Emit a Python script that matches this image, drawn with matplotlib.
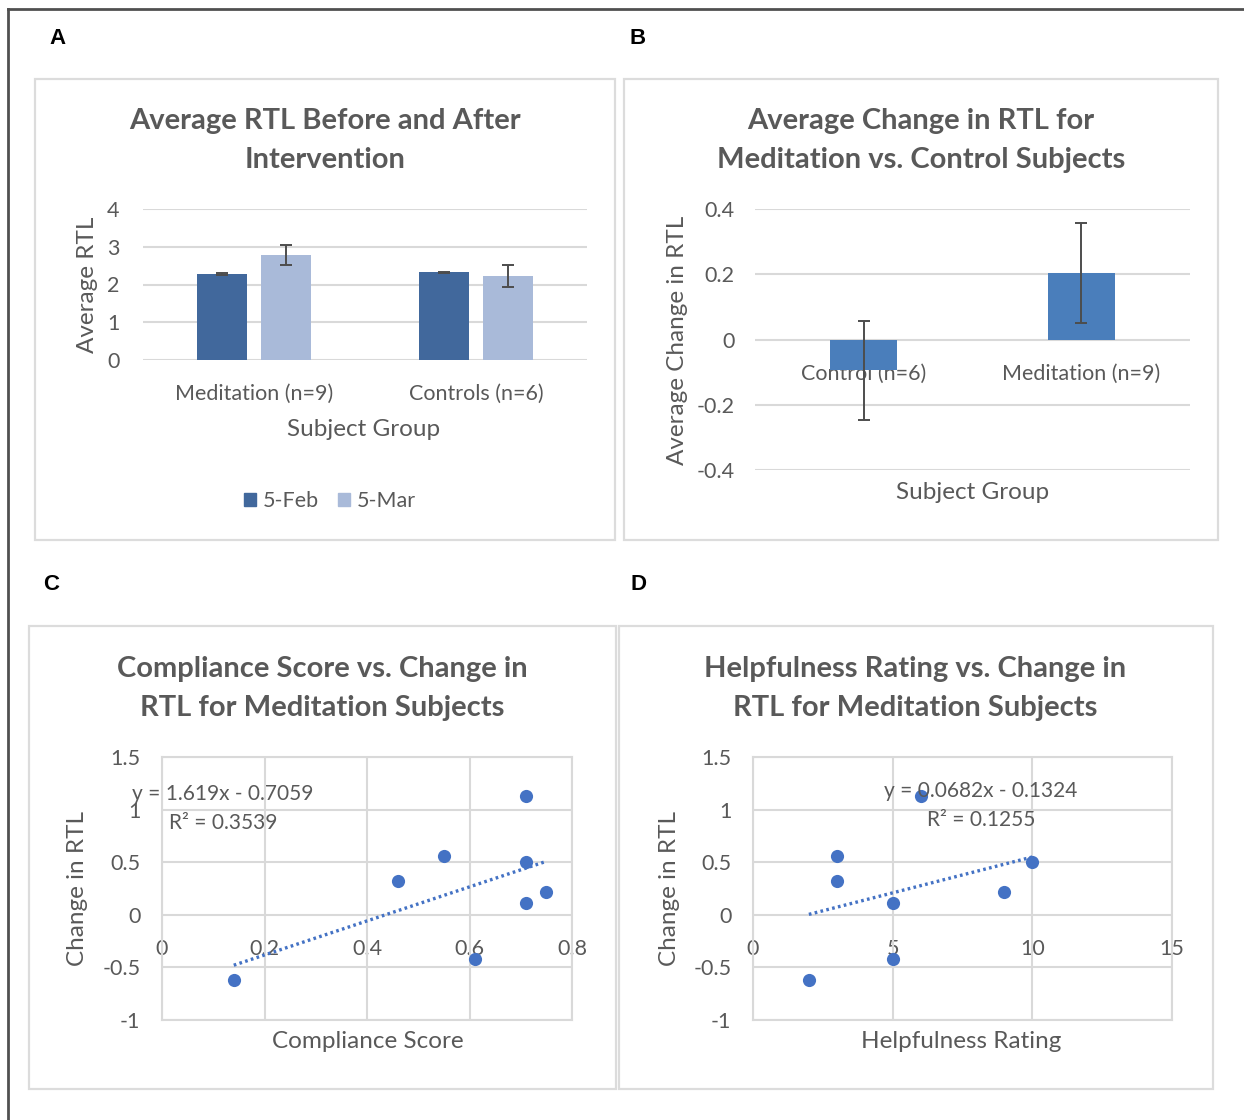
import numpy as np
import matplotlib
matplotlib.use("Agg")
import matplotlib.pyplot as plt
from matplotlib.patches import Rectangle, Patch
from matplotlib.lines import Line2D

plt.rcParams['font.family'] = ['Lato', 'DejaVu Sans']
plt.rcParams['axes.unicode_minus'] = False

# ---------------- data ----------------
a_groups = ['Meditation (n=9)', 'Controls (n=6)']
a_series = ['5-Feb', '5-Mar']
a_feb = [2.28, 2.32]
a_feb_err = [0.02, 0.02]
a_mar = [2.78, 2.22]
a_mar_err = [0.27, 0.29]
a_yticks = [0, 1, 2, 3, 4]

b_groups = ['Control (n=6)', 'Meditation (n=9)']
b_vals = [-0.095, 0.205]
b_err = [0.152, 0.153]
b_yticks = [-0.4, -0.2, 0, 0.2, 0.4]
b_yticklabels = ['-0.4', '-0.2', '0', '0.2', '0.4']

c_x = [0.14, 0.46, 0.55, 0.61, 0.71, 0.71, 0.71, 0.75]
c_y = [-0.62, 0.32, 0.56, -0.42, 1.13, 0.50, 0.11, 0.22]
c_slope, c_intercept = 1.619, -0.7059
c_eq = ['y = 1.619x - 0.7059', 'R\u00b2 = 0.3539']
c_xticks = [0, 0.2, 0.4, 0.6, 0.8]
c_xticklabels = ['0', '0.2', '0.4', '0.6', '0.8']

d_x = [2, 3, 3, 5, 6, 10, 5, 9]
d_y = [-0.62, 0.32, 0.56, -0.42, 1.13, 0.50, 0.11, 0.22]
d_slope, d_intercept = 0.0682, -0.1324
d_eq = ['y = 0.0682x - 0.1324', 'R\u00b2 = 0.1255']
d_xticks = [0, 5, 10, 15]
d_xticklabels = ['0', '5', '10', '15']

scatter_yticks = [-1, -0.5, 0, 0.5, 1, 1.5]
scatter_yticklabels = ['-1', '-0.5', '0', '0.5', '1', '1.5']

# ---------------- style ----------------
W, H = 1244, 1120
GRAY_TXT = '#595959'
GRID = '#d9d9d9'
FEB_C = '#41689c'
MAR_C = '#a9bad9'
B_C = '#4a7ebb'
PT_C = '#4472c4'
ERR_C = '#4d4d4d'
TITLE_FS = 21
TICK_FS = 15.5
LAB_FS = 17.5
EQ_FS = 15

fig = plt.figure(figsize=(W / 100, H / 100), dpi=100)


def fx(px):
    return px / W


def fy(py):
    return 1 - py / H


def add_ax(x0, y0, x1, y1):
    return fig.add_axes([x0 / W, 1 - y1 / H, (x1 - x0) / W, (y1 - y0) / H])


def panel_box(x0, y0, x1, y1):
    fig.add_artist(Rectangle((fx(x0), fy(y1)), (x1 - x0) / W, (y1 - y0) / H,
                             transform=fig.transFigure, fill=False,
                             edgecolor='#dcdcdc', lw=1.6))


def label_at(ax, box, which, px, py):
    x0, y0, x1, y1 = box
    ax_x = (px - x0) / (x1 - x0)
    ax_y = (y1 - py) / (y1 - y0)
    lab = ax.xaxis.label if which == 'x' else ax.yaxis.label
    (ax.xaxis if which == 'x' else ax.yaxis).set_label_coords(ax_x, ax_y)
    lab.set_va('center')
    lab.set_ha('center')


def title_at(text, px, py):
    fig.text(fx(px), fy(py), text, ha='center', va='center', fontsize=TITLE_FS,
             fontweight='bold', color=GRAY_TXT, linespacing=1.6)


# outer frame
fig.add_artist(Line2D([fx(8), fx(1244)], [fy(9), fy(9)], transform=fig.transFigure,
                      color='#505050', lw=2))
fig.add_artist(Line2D([fx(8), fx(8)], [fy(9), fy(1120)], transform=fig.transFigure,
                      color='#505050', lw=2))

# panel boxes
panel_box(35, 79, 615, 540)
panel_box(624, 79, 1218, 540)
panel_box(29, 626, 616, 1089)
panel_box(619, 626, 1213, 1089)

# panel letters
for letter, (px, py) in zip('ABCD', [(58, 38), (638, 38), (51, 585), (638, 585)]):
    fig.text(fx(px), fy(py), letter, ha='center', va='center', fontsize=16,
             fontweight='bold', color='black', family='Liberation Sans')


def style_common(ax):
    for s in ax.spines.values():
        s.set_visible(False)
    ax.tick_params(length=0, colors=GRAY_TXT, labelsize=TICK_FS)
    ax.set_axisbelow(True)


# ---------------- Panel A ----------------
boxA = (143, 209, 587, 360)
axA = add_ax(*boxA)
style_common(axA)
xa = np.arange(len(a_groups))
off, bw = 0.144, 0.225
axA.bar(xa - off, a_feb, width=bw, color=FEB_C, label=a_series[0], zorder=2)
axA.bar(xa + off, a_mar, width=bw, color=MAR_C, label=a_series[1], zorder=2)
axA.errorbar(xa - off, a_feb, yerr=a_feb_err, fmt='none', ecolor=ERR_C,
             elinewidth=1.4, capsize=4.5, capthick=1.4, zorder=3)
axA.errorbar(xa + off, a_mar, yerr=a_mar_err, fmt='none', ecolor=ERR_C,
             elinewidth=1.4, capsize=4.5, capthick=1.4, zorder=3)
axA.set_xlim(-0.5, 1.5)
axA.set_ylim(0, 4)
axA.set_yticks(a_yticks)
axA.set_xticks(xa, labels=a_groups)
axA.grid(axis='y', color=GRID, lw=1.5)
axA.tick_params(axis='y', pad=17)
axA.tick_params(axis='x', pad=17.5)
axA.set_ylabel('Average RTL', fontsize=LAB_FS, color=GRAY_TXT)
axA.set_xlabel('Subject Group', fontsize=LAB_FS, color=GRAY_TXT)
label_at(axA, boxA, 'y', 87, 285)
label_at(axA, boxA, 'x', 364, 430)
title_at('Average RTL Before and After\nIntervention', 325, 140.5)
axA.legend(handles=[Patch(color=FEB_C, label=a_series[0]),
                    Patch(color=MAR_C, label=a_series[1])],
           loc='center', bbox_to_anchor=(fx(330), fy(501)),
           bbox_transform=fig.transFigure, ncol=2, frameon=False,
           handlelength=0.56, handleheight=0.56, handletextpad=0.35,
           columnspacing=0.85, fontsize=TICK_FS, labelcolor=GRAY_TXT)

# ---------------- Panel B ----------------
boxB = (755, 209, 1190, 470)
axB = add_ax(*boxB)
style_common(axB)
xb = np.arange(len(b_groups))
axB.bar(xb, b_vals, width=0.31, color=B_C, zorder=2)
axB.errorbar(xb, b_vals, yerr=b_err, fmt='none', ecolor=ERR_C,
             elinewidth=1.4, capsize=4.5, capthick=1.4, zorder=3)
axB.set_xlim(-0.5, 1.5)
axB.set_ylim(-0.4, 0.4)
axB.set_yticks(b_yticks, labels=b_yticklabels)
axB.spines['bottom'].set_position(('data', 0))
axB.set_xticks(xb, labels=b_groups)
axB.grid(axis='y', color=GRID, lw=1.5)
axB.tick_params(axis='y', pad=14.5)
axB.tick_params(axis='x', pad=17.5)
for t in axB.get_xticklabels():
    t.set_zorder(5)
axB.set_ylabel('Average Change in RTL', fontsize=LAB_FS, color=GRAY_TXT)
axB.set_xlabel('Subject Group', fontsize=LAB_FS, color=GRAY_TXT)
label_at(axB, boxB, 'y', 677, 340)
label_at(axB, boxB, 'x', 973, 492)
title_at('Average Change in RTL for\nMeditation vs. Control Subjects', 921, 140.5)


# ---------------- Panels C & D ----------------
def scatter_panel(box, xs, ys, slope, intercept, eq, xticks, xticklabels,
                  xlim, eq_pos, xlabel, ylab_pos, xlab_pos, title, title_pos):
    ax = add_ax(*box)
    for s in ax.spines.values():
        s.set_color(GRID)
        s.set_linewidth(1.5)
    ax.set_axisbelow(True)
    ax.set_xlim(*xlim)
    ax.set_ylim(-1, 1.5)
    ax.set_xticks(xticks)
    ax.set_yticks(scatter_yticks, labels=scatter_yticklabels)
    ax.grid(True, color=GRID, lw=1.5)
    ax.tick_params(axis='x', length=0, labelbottom=False)
    ax.tick_params(axis='y', length=0, pad=15.5, colors=GRAY_TXT, labelsize=TICK_FS)
    sec = ax.secondary_xaxis(0.4)
    sec.set_xticks(xticks, labels=xticklabels)
    sec.spines['bottom'].set_visible(False)
    sec.tick_params(length=0, pad=17.5, colors=GRAY_TXT, labelsize=TICK_FS)
    ax.scatter(xs, ys, s=90, color=PT_C, zorder=3, linewidths=0)
    tx = np.array([min(xs), max(xs)])
    ax.plot(tx, slope * tx + intercept, color=PT_C, lw=2.4,
            linestyle=(0, (0.8, 1.0)), zorder=2)
    ax.text(eq_pos[0], eq_pos[1], eq[0] + '\n' + eq[1], ha='center', va='center',
            fontsize=EQ_FS, color=GRAY_TXT, linespacing=1.55, zorder=4)
    ax.set_ylabel('Change in RTL', fontsize=LAB_FS, color=GRAY_TXT)
    ax.set_xlabel(xlabel, fontsize=LAB_FS, color=GRAY_TXT)
    label_at(ax, box, 'y', *ylab_pos)
    label_at(ax, box, 'x', *xlab_pos)
    title_at(title, *title_pos)
    return ax


scatter_panel((162, 757, 572, 1020), c_x, c_y, c_slope, c_intercept, c_eq,
              c_xticks, c_xticklabels, (0, 0.8), (0.119, 1.012),
              'Compliance Score', (78, 888), (368, 1042),
              'Compliance Score vs. Change in\nRTL for Meditation Subjects', (322, 688.5))
scatter_panel((753, 757, 1172, 1020), d_x, d_y, d_slope, d_intercept, d_eq,
              d_xticks, d_xticklabels, (0, 15), (8.16, 1.04),
              'Helpfulness Rating', (669, 888), (961, 1042),
              'Helpfulness Rating vs. Change in\nRTL for Meditation Subjects', (915, 688.5))

fig.savefig('out.png', dpi=100, facecolor='white')
